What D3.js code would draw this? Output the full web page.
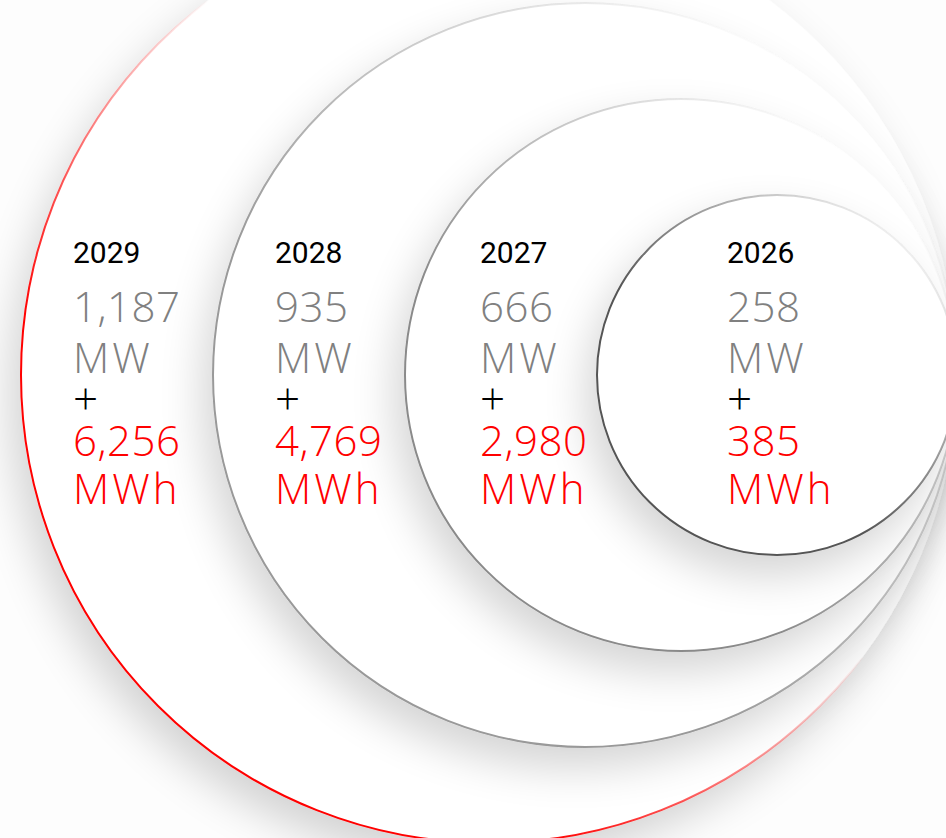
<!DOCTYPE html>
<html>
<head>
<meta charset="utf-8">
<script src="https://cdn.jsdelivr.net/npm/d3@7"></script>
<style>
  html, body { margin: 0; padding: 0; background: #ffffff; }
  svg { display: block; }
</style>
</head>
<body>
<div id="chart"></div>
<script>
// ---- data ----
const years = ["2029", "2028", "2027", "2026"];
const capacityMW = [1187, 935, 666, 258];
const storageMWh = [6256, 4769, 2980, 385];
const unitPower = "MW";
const unitEnergy = "MWh";

// ---- layout ----
const W = 946, H = 838;
const tangentX = 957, cy = 375;
const svg = d3.select("#chart").append("svg").attr("width", W).attr("height", H);
svg.append("rect").attr("width", W).attr("height", H).attr("fill", "#fdfdfd");

const idx = d3.scaleOrdinal().domain(years).range([3, 2, 1, 0]);
const rScale = d3.scaleLinear().domain([0, 3]).range([180, 468]);
const labelX = d3.scaleOrdinal().domain(years).range([73, 275, 480, 727]);
const strokeColor = d3.scaleOrdinal().domain(years).range(["#ff0000", "#999999", "#8a8a8a", "#555555"]);
const fadeEnd = d3.scaleOrdinal().domain(years).range([0.55, 0.85, 0.85, 0.9]);
const fadeStart = d3.scaleOrdinal().domain(years).range([0.28, 0.35, 0.35, 0.4]);

const defs = svg.append("defs");
const f = defs.append("filter").attr("id", "shadow")
  .attr("x", "-30%").attr("y", "-30%").attr("width", "160%").attr("height", "160%");
f.append("feGaussianBlur").attr("in", "SourceAlpha").attr("stdDeviation", 22).attr("result", "b");
f.append("feOffset").attr("in", "b").attr("dx", -10).attr("dy", 20).attr("result", "o");
f.append("feComponentTransfer").attr("in", "o").attr("result", "s")
  .append("feFuncA").attr("type", "linear").attr("slope", 0.17);
const m = f.append("feMerge");
m.append("feMergeNode").attr("in", "s");
m.append("feMergeNode").attr("in", "SourceGraphic");

years.forEach(y => {
  const g = defs.append("linearGradient").attr("id", "grad" + y)
    .attr("x1", 0).attr("y1", 1).attr("x2", 1).attr("y2", 0);
  g.append("stop").attr("offset", 0).attr("stop-color", strokeColor(y)).attr("stop-opacity", 1);
  g.append("stop").attr("offset", fadeStart(y)).attr("stop-color", strokeColor(y)).attr("stop-opacity", 1);
  g.append("stop").attr("offset", fadeEnd(y)).attr("stop-color", strokeColor(y)).attr("stop-opacity", 0);
  g.append("stop").attr("offset", 1).attr("stop-color", strokeColor(y)).attr("stop-opacity", 0);
});

const data = years.map((y, i) => ({ year: y, mw: capacityMW[i], mwh: storageMWh[i] }));

svg.append("g").selectAll("circle").data(data).join("circle")
  .attr("cx", d => tangentX - rScale(idx(d.year)))
  .attr("cy", cy)
  .attr("r", d => rScale(idx(d.year)))
  .attr("fill", "#ffffff")
  .attr("filter", "url(#shadow)")
  .attr("stroke", d => `url(#grad${d.year})`)
  .attr("stroke-width", 2);

const fmt = d3.format(",");
const labels = svg.append("g").selectAll("g").data(data).join("g")
  .attr("transform", d => `translate(${labelX(d.year)},0)`);

const numFont = "'Open Sans', sans-serif";
labels.append("text").attr("y", 263).text(d => d.year)
  .attr("font-family", "Roboto, sans-serif").attr("font-weight", 400)
  .attr("font-size", 30).attr("fill", "#000");
labels.append("text").attr("y", 322).text(d => fmt(d.mw))
  .attr("font-family", numFont).attr("font-weight", 300)
  .attr("font-size", 42).attr("fill", "#808080").attr("letter-spacing", 0.5);
labels.append("text").attr("y", 373).text(unitPower)
  .attr("font-family", numFont).attr("font-weight", 300)
  .attr("font-size", 42).attr("fill", "#808080").attr("letter-spacing", 3);
labels.append("text").attr("x", 0).attr("y", 415).text("+")
  .attr("font-family", numFont).attr("font-weight", 300)
  .attr("font-size", 44).attr("fill", "#000");
labels.append("text").attr("y", 456).text(d => fmt(d.mwh))
  .attr("font-family", numFont).attr("font-weight", 300)
  .attr("font-size", 42).attr("fill", "#ff0000").attr("letter-spacing", 0.5);
labels.append("text").attr("y", 504).text(unitEnergy)
  .attr("font-family", numFont).attr("font-weight", 300)
  .attr("font-size", 42).attr("fill", "#ff0000").attr("letter-spacing", 3);
</script>
</body>
</html>
